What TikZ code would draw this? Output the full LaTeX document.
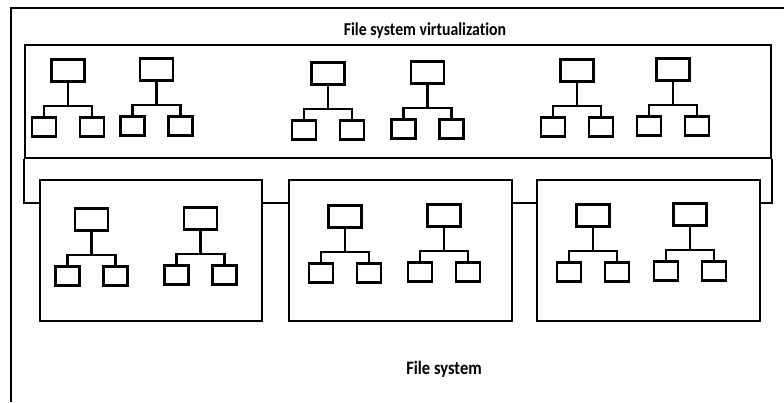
\documentclass[tikz,border=0pt]{standalone}
\usepackage{fontspec}
\setmainfont{Carlito}[Ligatures=NoCommon]
\tikzset{
  frameline/.style={line width=2.3pt, line join=miter},
  fsbox/.style={draw, line width=2.3pt, inner sep=0pt},
  topbox/.style={draw, line width=2.8pt, minimum width=33pt, minimum height=22pt, inner sep=0pt},
  kidbox/.style={draw, line width=2.8pt, minimum width=24pt, minimum height=19pt, inner sep=0pt},
  treeline/.style={line width=2.8pt},
  lbl/.style={font=\bfseries\fontsize{15.8pt}{18pt}\selectfont, inner sep=0pt, anchor=base}
}
\newcommand{\fstree}[3]{%
  \begin{scope}[shift={(#2,-#3)}]
    \node[topbox] (#1t) at (0,-12.5) {};
    \coordinate (#1b) at (0,-48);
    \node[kidbox] (#1l) at (-24,-69) {};
    \node[kidbox] (#1r) at (24,-69) {};
    \draw[treeline] (#1t.south) -- (#1b);
    \draw[treeline] (#1l.north) |- (#1b) -| (#1r.north);
  \end{scope}}
\begin{document}
\begin{tikzpicture}[x=1pt,y=1pt]
\useasboundingbox[fill=white] (0,0) rectangle (784,-402);
% outer frame (clipped on right and bottom)
\coordinate (obl) at (11,-402);
\coordinate (otr) at (784,-8);
\draw[frameline] (obl) |- (otr);
% titles
\node[lbl] (title) at (425,-35) {\scalebox{1}[1.15]{File system virtualization}};
\node[lbl, font=\bfseries\fontsize{16.5pt}{19pt}\selectfont] (fslabel) at (444,-374) {\scalebox{1}[1.15]{File system}};
% virtualization box
\node[fsbox, minimum width=746pt, minimum height=113pt] (virt) at (398,-101.5) {};
% file system boxes
\node[fsbox, minimum width=222pt, minimum height=141pt] (fs1) at (151,-250.5) {};
\node[fsbox, minimum width=223pt, minimum height=141pt] (fs2) at (400.5,-250.5) {};
\node[fsbox, minimum width=223pt, minimum height=141pt] (fs3) at (648.5,-250.5) {};
% connectors
\draw[frameline] (virt.south west) |- ([yshift=-24pt]fs1.north west);
\draw[frameline] (virt.south east) |- ([yshift=-24pt]fs3.north east);
\draw[frameline] ([yshift=-24pt]fs1.north east) -- ([yshift=-24pt]fs2.north west);
\draw[frameline] ([yshift=-24pt]fs2.north east) -- ([yshift=-24pt]fs3.north west);
% upper trees
\fstree{u1}{68}{58}
\fstree{u2}{156.5}{57}
\fstree{u3}{328}{61}
\fstree{u4}{427.5}{60}
\fstree{u5}{577}{58}
\fstree{u6}{673}{57}
% lower trees
\fstree{d1}{91.5}{207}
\fstree{d2}{200.5}{206}
\fstree{d3}{345}{204}
\fstree{d4}{444}{203}
\fstree{d5}{593}{203}
\fstree{d6}{690}{202}
\end{tikzpicture}
\end{document}
